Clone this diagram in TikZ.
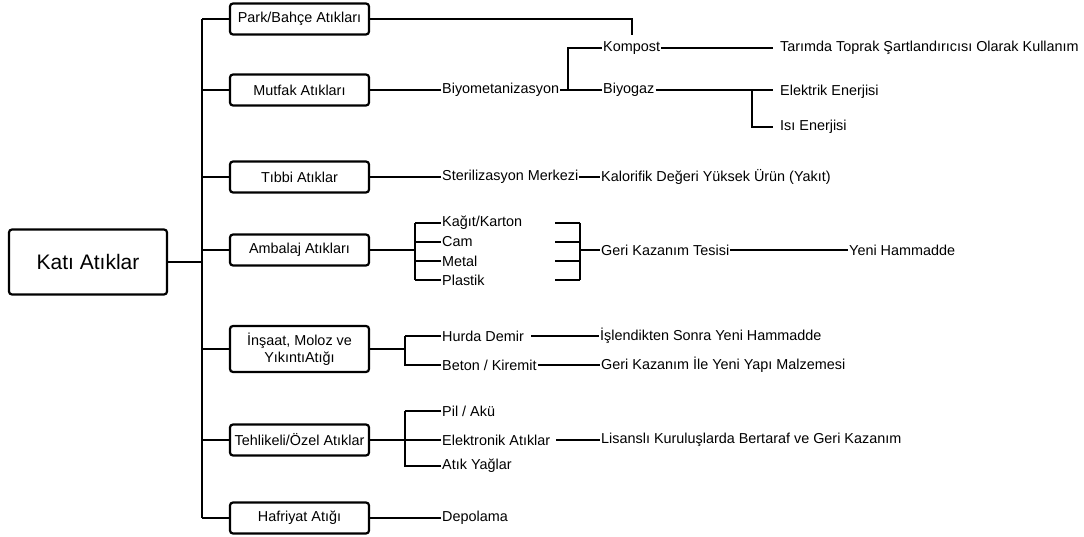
\documentclass[tikz,border=0pt]{standalone}
\usepackage{fontspec}
\setmainfont{Liberation Sans}
\begin{document}
\begin{tikzpicture}[x=1pt,y=-1pt,
  box/.style={draw,line width=2.2pt,rounded corners=3pt,minimum width=139pt,
    minimum height=31pt,inner sep=2pt,align=center,font=\fontsize{14.4}{16.5}\selectfont},
  lbl/.style={anchor=west,inner sep=1pt,font=\fontsize{14.4}{16.5}\selectfont},
  ln/.style={line width=2pt}]
  \useasboundingbox (0,0) rectangle (1084,537);

  \node[box,minimum width=158pt,minimum height=65pt,
  font=\fontsize{21}{24}\selectfont] (kati) at (88,262) {Katı Atıklar};
  \node[box] (park) at (299.5,19) {Park/Bahçe Atıkları};
  \node[box] (mutfak) at (299.5,90) {Mutfak Atıkları};
  \node[box] (tibbi) at (299.5,177) {Tıbbi Atıklar};
  \node[box] (ambalaj) at (299.5,250) {Ambalaj Atıkları};
  \node[box,minimum height=46pt] (insaat) at (299.5,349) {İnşaat, Moloz ve\\YıkıntıAtığı};
  \node[box] (tehlike) at (299.5,440) {Tehlikeli/Özel Atıklar};
  \node[box] (hafriyat) at (299.5,518) {Hafriyat Atığı};

  \coordinate (t0) at (202,0);
  \draw[ln] (kati.east) -- (kati.east -| t0);
  \draw[ln] (park.west -| t0) -- (hafriyat.west -| t0);
  \foreach \b in {park,mutfak,tibbi,ambalaj,insaat,tehlike,hafriyat}
    \draw[ln] (\b.west -| t0) -- (\b.west);

  % mutfak
  \node[lbl] (biyomet) at (441,90) {Biyometanizasyon};
  \node[lbl] (kompost) at (602,48) {Kompost};
  \node[lbl] (biyogaz) at (602,90) {Biyogaz};
  \node[lbl] (tarim) at (779,48) {Tarımda Toprak Şartlandırıcısı Olarak Kullanım};
  \node[lbl] (elektrik) at (779,92) {Elektrik Enerjisi};
  \node[lbl] (isi) at (779,127) {Isı Enerjisi};
  \coordinate (j1) at (568,0);
  \coordinate (j2) at (752,0);
  \draw[ln] (mutfak.east) -- (biyomet.west);
  \draw[ln] (biyomet.east) -- (biyogaz.west);
  \draw[ln] (biyomet.east -| j1) |- (kompost.west);
  \draw[ln,shorten >=5pt] (park.east) -| (kompost.north);
  \draw[ln,shorten >=6pt] (kompost.east) -- (tarim.west);
  \draw[ln,shorten >=6pt] (biyogaz.east) -- (biyogaz.east -| elektrik.west);
  \draw[ln,shorten >=6pt] (biyogaz.east -| j2) |- (isi.west);

  % tibbi
  \node[lbl] (steril) at (441,177) {Sterilizasyon Merkezi};
  \node[lbl] (kalori) at (600,177) {Kalorifik Değeri Yüksek Ürün (Yakıt)};
  \draw[ln] (tibbi.east) -- (steril.west);
  \draw[ln] (steril.east) -- (kalori.west);

  % ambalaj
  \node[lbl] (kagit) at (441,223) {Kağıt/Karton};
  \node[lbl] (cam) at (441,242) {Cam};
  \node[lbl] (metal) at (441,261) {Metal};
  \node[lbl] (plastik) at (441,280) {Plastik};
  \node[lbl] (geri) at (600,250) {Geri Kazanım Tesisi};
  \node[lbl] (yeni) at (848,250) {Yeni Hammadde};
  \coordinate (j3) at (415,0);
  \coordinate (r1) at (555,0);
  \coordinate (r2) at (580,0);
  \draw[ln] (ambalaj.east) -- (ambalaj.east -| j3);
  \draw[ln] (kagit.west -| j3) -- (plastik.west -| j3);
  \draw[ln] (kagit.west -| r2) -- (plastik.west -| r2);
  \foreach \i in {kagit,cam,metal,plastik}{
    \draw[ln] (\i.west -| j3) -- (\i.west);
    \draw[ln] (\i.west -| r1) -- (\i.west -| r2);
  }
  \draw[ln] (geri.west -| r2) -- (geri.west);
  \draw[ln] (geri.east) -- (yeni.west);

  % insaat
  \node[lbl] (hurda) at (441,336) {Hurda Demir};
  \node[lbl] (beton) at (441,365) {Beton / Kiremit};
  \node[lbl] (isle) at (599,336) {İşlendikten Sonra Yeni Hammadde};
  \node[lbl] (malz) at (600,365) {Geri Kazanım İle Yeni Yapı Malzemesi};
  \coordinate (j4) at (405,0);
  \draw[ln] (insaat.east) -- (insaat.east -| j4);
  \draw[ln] (hurda.west -| j4) |- (beton.west);
  \draw[ln] (hurda.west -| j4) -- (hurda.west);
  \draw[ln,shorten <=6pt] (hurda.east) -- (isle.west);
  \draw[ln] (beton.east) -- (malz.west);

  % tehlikeli
  \node[lbl] (pil) at (441,411) {Pil / Akü};
  \node[lbl] (elektronik) at (441,440) {Elektronik Atıklar};
  \node[lbl] (yag) at (441,466) {Atık Yağlar};
  \node[lbl] (lisans) at (600,440) {Lisanslı Kuruluşlarda Bertaraf ve Geri Kazanım};
  \coordinate (j5) at (405,0);
  \draw[ln] (pil.west -| j5) |- (yag.west);
  \draw[ln] (pil.west -| j5) -- (pil.west);
  \draw[ln] (tehlike.east) -- (elektronik.west);
  \draw[ln,shorten <=5pt] (elektronik.east) -- (lisans.west);

  % hafriyat
  \node[lbl] (depo) at (441,518) {Depolama};
  \draw[ln] (hafriyat.east) -- (depo.west);
\end{tikzpicture}
\end{document}
